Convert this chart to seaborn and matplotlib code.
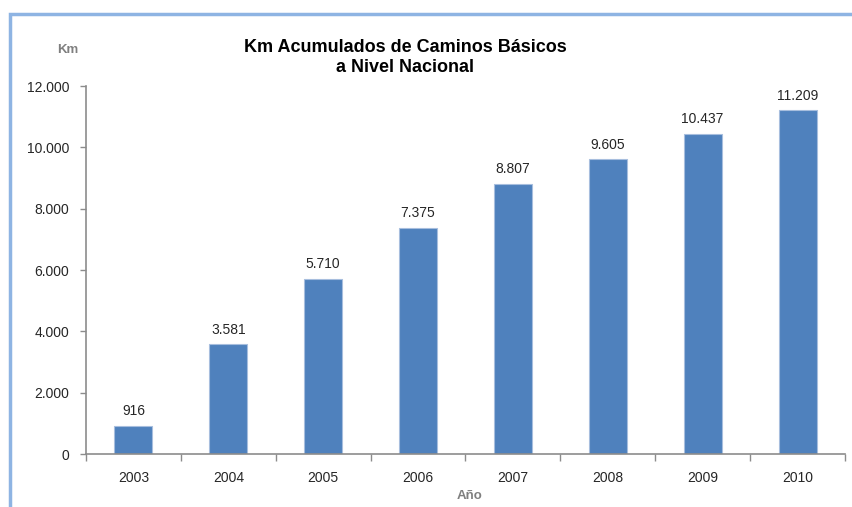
import matplotlib
matplotlib.use("Agg")
import matplotlib.pyplot as plt
import seaborn as sns
import pandas as pd
import numpy as np
from matplotlib.patches import Rectangle
from matplotlib.ticker import FuncFormatter, FixedLocator

years = ["2003", "2004", "2005", "2006", "2007", "2008", "2009", "2010"]
km = [916, 3581, 5710, 7375, 8807, 9605, 10437, 11209]
yticks = [0, 2000, 4000, 6000, 8000, 10000, 12000]

title_lines = ["Km Acumulados de Caminos Básicos", "a Nivel Nacional"]

df = pd.DataFrame({"Año": years, "Km": km})

sns.set_theme(style="white")
plt.rcParams["font.family"] = ["Liberation Sans", "DejaVu Sans"]

fig = plt.figure(figsize=(8.53, 5.07), dpi=100)
ax = fig.add_axes([86/853, 1-454/507, (845-86)/853, (454-86)/507])

sns.barplot(data=df, x="Año", y="Km", color="#4F81BD", width=0.4,
            saturation=1, ax=ax, edgecolor="#A7BEDE", linewidth=0.8)

fmt = lambda v: f"{int(v):,}".replace(",", ".")
for i, v in enumerate(km):
    ax.text(i, v + 250, fmt(v), ha="center", va="bottom", fontsize=10, color="#262626")

ax.set_ylim(0, 12000)
ax.set_xlim(-0.5, len(years) - 0.5)
ax.set_yticks(yticks)
ax.yaxis.set_major_formatter(FuncFormatter(lambda v, p: fmt(v)))
ax.set_xlabel("")
ax.set_ylabel("")

for s in ["top", "right"]:
    ax.spines[s].set_visible(False)
for s in ["left", "bottom"]:
    ax.spines[s].set_color("#8c8c8c")
    ax.spines[s].set_linewidth(1.2)

ax.tick_params(axis="y", which="major", left=True, length=4, width=1, color="#8c8c8c",
               labelsize=10, labelcolor="#262626", pad=8)
ax.tick_params(axis="x", which="major", bottom=False, labelsize=10, labelcolor="#262626", pad=6)
ax.xaxis.set_minor_locator(FixedLocator(np.arange(-0.5, len(years), 1.0)))
ax.tick_params(axis="x", which="minor", bottom=True, length=5, width=1, color="#8c8c8c")

fig.text(405/853, 1-47/507, title_lines[0], ha="center", va="center", fontsize=13,
         fontweight="bold", color="black")
fig.text(405/853, 1-68/507, title_lines[1], ha="center", va="center", fontsize=13,
         fontweight="bold", color="black")
fig.text(68/853, 1-50/507, "Km", ha="center", va="center", fontsize=9.5,
         fontweight="bold", color="#7f7f7f")
fig.text(470/853, 1-496/507, "Año", ha="center", va="center", fontsize=9.5,
         fontweight="bold", color="#7f7f7f")

fig.patches.append(Rectangle((9.5/853, -0.1), 1.2, 1.1 - 13.5/507,
                             transform=fig.transFigure, fill=False,
                             edgecolor="#8EB4E3", linewidth=2.5))

fig.savefig("out.png", dpi=100)
